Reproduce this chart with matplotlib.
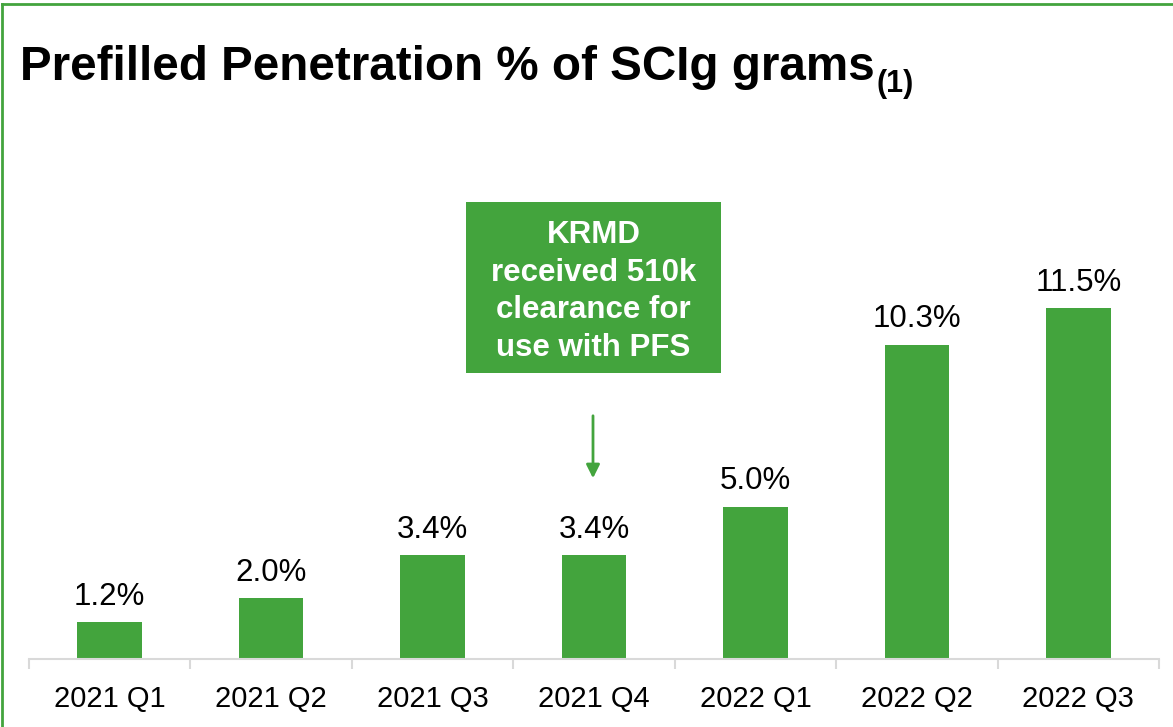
import matplotlib.pyplot as plt
import matplotlib.patches as mpatches
import numpy as np

plt.rcParams['font.family'] = ['Liberation Sans', 'DejaVu Sans']

# data
quarters = ["2021 Q1", "2021 Q2", "2021 Q3", "2021 Q4", "2022 Q1", "2022 Q2", "2022 Q3"]
penetration = [1.2, 2.0, 3.4, 3.4, 5.0, 10.3, 11.5]
labels = ["1.2%", "2.0%", "3.4%", "3.4%", "5.0%", "10.3%", "11.5%"]
note_lines = ["KRMD", "received 510k", "clearance for", "use with PFS"]

GREEN = "#43A43D"
W, H = 1173, 727

fig = plt.figure(figsize=(W / 100, H / 100), dpi=100)

# axes: x from 29 to 1159 px, baseline at 659 px, 30.5 px per %
ax = fig.add_axes([29 / W, 1 - 659 / H, (1159 - 29) / W, (659 - 150) / H])
x = np.arange(len(quarters))
ax.bar(x, penetration, width=0.4, color=GREEN, zorder=2)
ax.set_xlim(-0.5, len(quarters) - 0.5)
ax.set_ylim(0, (659 - 150) / 30.5)

for xi, v, lab in zip(x, penetration, labels):
    ax.annotate(lab, (xi, v), xytext=(0, 12.5), textcoords="offset points",
                ha="center", va="baseline", fontsize=22.5, color="black")

for s in ["top", "right", "left"]:
    ax.spines[s].set_visible(False)
ax.spines["bottom"].set_color("#D9D9D9")
ax.spines["bottom"].set_linewidth(1.5)
ax.set_yticks([])
ax.set_xticks(x)
ax.set_xticklabels(quarters, fontsize=21)
ax.tick_params(axis="x", which="major", length=0, pad=19)
ax.set_xticks(np.arange(-0.5, len(quarters), 1.0), minor=True)
ax.tick_params(axis="x", which="minor", length=7.5, width=1.5, color="#D9D9D9")

# title
fig.text(20 / W, 1 - 80 / H, "Prefilled Penetration % of SCIg grams",
         fontsize=34.3, fontweight="bold", ha="left", va="baseline")
fig.text(877 / W, 1 - 92 / H, "(1)", fontsize=22, fontweight="bold",
         ha="left", va="baseline")

# annotation box
box = mpatches.Rectangle((466 / W, 1 - 373 / H), (721 - 466) / W, (373 - 202) / H,
                         transform=fig.transFigure, facecolor=GREEN, edgecolor="none")
fig.patches.append(box)
for i, line in enumerate(note_lines):
    fig.text(593.5 / W, 1 - (243 + 37.7 * i) / H, line, fontsize=22.5,
             fontweight="bold", color="white", ha="center", va="baseline")
fig.add_artist(mpatches.FancyArrowPatch((593 / W, 1 - 413 / H), (593 / W, 1 - 481 / H),
                                        transform=fig.transFigure, arrowstyle="-|>",
                                        mutation_scale=20, color=GREEN, lw=2))

# outer frame
fig.add_artist(plt.Line2D([1.5 / W, 1.5 / W], [0, 1 - 3.5 / H], transform=fig.transFigure,
                          color=GREEN, lw=2))
fig.add_artist(plt.Line2D([1.5 / W, 1], [1 - 3.5 / H, 1 - 3.5 / H], transform=fig.transFigure,
                          color=GREEN, lw=2))

fig.savefig("out.png", dpi=100)
